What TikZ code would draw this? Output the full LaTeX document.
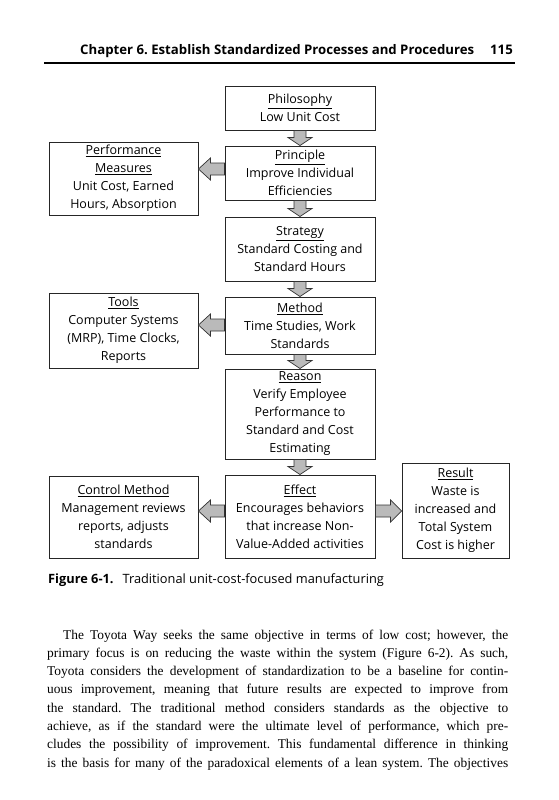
\documentclass[tikz,border=0pt]{standalone}
\usepackage{fontspec}
\setmainfont{Liberation Serif}
\newfontfamily\sansf{Open Sans}
\usetikzlibrary{calc}
\newcommand\darr[2]{\draw[fat] ($(#1.south)+(-6,0)$) -- ($(#2.north)+(-6,-8)$) -- ($(#2.north)+(-12,-8)$) -- (#2.north) -- ($(#2.north)+(12,-8)$) -- ($(#2.north)+(6,-8)$) -- ($(#1.south)+(6,0)$) -- cycle;}
\newcommand\larr[3]{%
  \coordinate (s) at (#1.west |- 0,#3);
  \coordinate (t) at (#2.east |- 0,#3);
  \draw[fat] ($(s)+(0,-6)$) -- ($(t)+(12,-6)$) -- ($(t)+(12,-11)$) -- (t) -- ($(t)+(12,11)$) -- ($(t)+(12,6)$) -- ($(s)+(0,6)$) -- cycle;}
\newcommand\rarr[3]{%
  \coordinate (s) at (#1.east |- 0,#3);
  \coordinate (t) at (#2.west |- 0,#3);
  \draw[fat] ($(s)+(0,-6)$) -- ($(t)+(-11,-6)$) -- ($(t)+(-11,-11)$) -- (t) -- ($(t)+(-11,11)$) -- ($(t)+(-11,6)$) -- ($(s)+(0,6)$) -- cycle;}
\begin{document}
\frenchspacing
\begin{tikzpicture}[x=1pt,y=-1pt,
  box/.style={draw=black!85, line width=0.9pt, align=center, inner sep=0pt,
    font=\sansf\fontsize{12.5}{18}\selectfont},
  fat/.style={draw=black!80, line width=0.7pt, fill=black!27, line join=miter},
  bodyline/.style={anchor=base west, inner sep=0pt, font=\fontsize{13.4}{15}\selectfont},
  hdr/.style={inner sep=0pt, font=\sansf\bfseries\fontsize{13.2}{15}\selectfont}]
\useasboundingbox (0,0) rectangle (558,800);
\fill[white] (0,0) rectangle (558,800);
% header
\node[hdr, anchor=base west] (title) at (80,55) {Chapter 6. Establish Standardized Processes and Procedures};
\node[hdr, anchor=base east] (page) at (513,55) {115};
\draw[line width=1.4pt] (44,63) -- (515,63);
% boxes
\node[box, minimum width=150pt, minimum height=44pt] (phil) at (300,108) {\underline{Philosophy}\\Low Unit Cost};
\node[box, minimum width=150pt, minimum height=54pt] (prin) at (300,173) {\underline{Principle}\\Improve Individual\\Efficiencies};
\node[box, minimum width=150pt, minimum height=64pt] (strat) at (300,249) {\underline{Strategy}\\Standard Costing and\\Standard Hours};
\node[box, minimum width=150pt, minimum height=57pt] (meth) at (300,325.5) {\underline{Method}\\Time Studies, Work\\Standards};
\node[box, minimum width=150pt, minimum height=90pt] (reason) at (300,414) {\underline{Reason}\\Verify Employee\\Performance to\\Standard and Cost\\Estimating};
\node[box, minimum width=150pt, minimum height=83pt] (effect) at (300,516.5) {\underline{Effect}\\Encourages behaviors\\that increase Non-\\Value-Added activities};
\node[box, minimum width=149pt, minimum height=73pt] (perf) at (123.5,178.5) {\underline{Performance}\\\underline{Measures}\\Unit Cost, Earned\\Hours, Absorption};
\node[box, minimum width=149pt, minimum height=75pt] (tools) at (123.5,330.5) {\underline{Tools}\\Computer Systems\\(MRP), Time Clocks,\\Reports};
\node[box, minimum width=149pt, minimum height=82pt] (control) at (123.5,517) {\underline{Control Method}\\Management reviews\\reports, adjusts\\standards};
\node[box, minimum width=107pt, minimum height=95pt] (result) at (455.5,510.5) {\underline{Result}\\Waste is\\increased and\\Total System\\Cost is higher};
% arrows
\darr{phil}{prin}
\darr{prin}{strat}
\darr{strat}{meth}
\darr{meth}{reason}
\darr{reason}{effect}
\larr{prin}{perf}{169}
\larr{meth}{tools}{325}
\larr{effect}{control}{511}
\rarr{effect}{result}{511}
% caption
\node[anchor=base west, inner sep=0pt, font=\sansf\fontsize{12.8}{14}\selectfont] (caption) at (48,583) {\textbf{Figure 6-1.}\hspace{9pt}Traditional unit-cost-focused manufacturing};
% body text
\node[bodyline] (b1) at (63,639) {\makebox[445pt][s]{The Toyota Way seeks the same objective in terms of low cost; however, the}};
\node[bodyline] (b2) at (47,657.3) {\makebox[461pt][s]{primary focus is on reducing the waste within the system (Figure 6-2). As such,}};
\node[bodyline] (b3) at (47,675.6) {\makebox[461pt][s]{Toyota considers the development of standardization to be a baseline for contin-}};
\node[bodyline] (b4) at (47,693.9) {\makebox[461pt][s]{uous improvement, meaning that future results are expected to improve from}};
\node[bodyline] (b5) at (47,712.2) {\makebox[461pt][s]{the standard. The traditional method considers standards as the objective to}};
\node[bodyline] (b6) at (47,730.5) {\makebox[461pt][s]{achieve, as if the standard were the ultimate level of performance, which pre-}};
\node[bodyline] (b7) at (47,748.8) {\makebox[461pt][s]{cludes the possibility of improvement. This fundamental difference in thinking}};
\node[bodyline] (b8) at (47,767.1) {\makebox[461pt][s]{is the basis for many of the paradoxical elements of a lean system. The objectives}};
\end{tikzpicture}
\end{document}
